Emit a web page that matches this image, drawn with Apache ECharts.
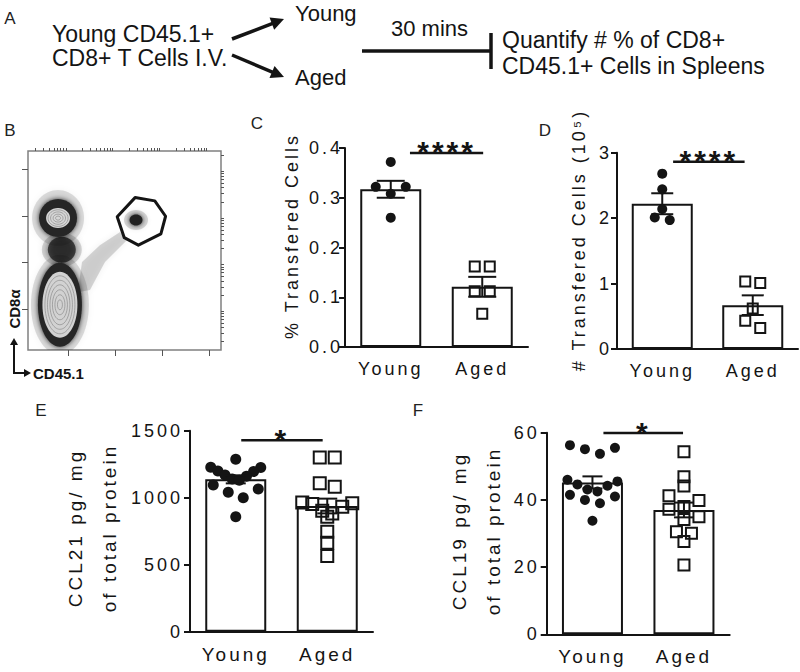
<!DOCTYPE html>
<html>
<head>
<meta charset="utf-8">
<script src="https://cdn.jsdelivr.net/npm/echarts@6/dist/echarts.min.js"></script>
<style>
html,body{margin:0;padding:0;background:#fff;}
#main{width:800px;height:672px;}
#main svg text[style*="Arial"]{letter-spacing:3px;}
</style>
</head>
<body>
<div id="main"></div>
<script>
// ---------------- data ----------------
const groups = ['Young', 'Aged'];

// C: % transferred cells
const cYoung = [0.372, 0.322, 0.322, 0.308, 0.260];
const cAged  = [0.162, 0.162, 0.112, 0.112, 0.067];
const cMean  = [0.317, 0.121];
const cSem   = [0.017, 0.020];
const cTickLabels = ['0.0', '0.1', '0.2', '0.3', '0.4'];

// D: # transferred cells (10^5)
const dYoung = [2.68, 2.44, 2.14, 2.01, 1.97];
const dAged  = [1.03, 1.01, 0.62, 0.43, 0.32];
const dMean  = [2.22, 0.67];
const dSem   = [0.16, 0.15];
const dTickLabels = ['0', '1', '2', '3'];

// E: CCL21 pg/mg
const eYoung = [1287, 1228, 1225, 1200, 1195, 1170, 1160, 1140, 1130, 1095, 1065, 1040, 1000, 858];
const eAged  = [1300, 1300, 1107, 1082, 965, 958, 953, 933, 903, 883, 858, 746, 664, 565];
const eMean  = [1137, 938];
const eSem   = [30, 55];
const eTickLabels = ['0', '500', '1000', '1500'];

// F: CCL19 pg/mg
const fYoung = [56.3, 55.5, 55.1, 53.7, 46.0, 45.5, 44.6, 44.2, 43.1, 42.5, 41.5, 41.0, 40.0, 39.0, 33.8];
const fAged  = [54.3, 46.9, 44.1, 41.2, 39.8, 38.0, 37.2, 35.0, 34.2, 30.5, 30.1, 27.6, 20.6];
const fMean  = [45.2, 37.0];
const fSem   = [1.8, 2.2];
const fTickLabels = ['0', '20', '40', '60'];

// B: flow plot (log decades)
const bMajorTicks = [1, 2, 3, 4];
const bPopulations = [[0.87, 2.27], [0.79, 2.95], [0.83, 1.09], [2.45, 2.91]];
const bGate = [[2.43, 3.39], [2.85, 3.32], [3.08, 2.99], [2.98, 2.61], [2.50, 2.37], [2.20, 2.53], [2.05, 2.98]];
const bStream = [[1.21, 1.36], [1.30, 2.01], [1.68, 2.37], [2.11, 2.65], [2.26, 2.48], [1.79, 2.01], [1.47, 1.41]];

// ---------------- helpers ----------------
const INK = '#141414';
const AX = { color: INK, width: 2 };

function logMinor(min, max) {
  const out = [];
  for (let d = 0; d <= 4; d++) for (let m = 2; m <= 9; m++) {
    const v = d + Math.log10(m);
    if (v > min && v < max) out.push(v);
  }
  return out;
}

// GraphPad-like row layout of points: rows of near-equal values, spread symmetrically
function swarmOffsets(values, pxPerUnit, gapPx, spanPx, stepPx, maxSpanPx) {
  const idx = values.map((v, i) => i).sort((a, b) => values[b] - values[a]);
  const offs = new Array(values.length).fill(0);
  const rows = [];
  let cur = [];
  idx.forEach(i => {
    if (cur.length) {
      const head = values[cur[0]], prev = values[cur[cur.length - 1]];
      if ((prev - values[i]) * pxPerUnit > gapPx || (head - values[i]) * pxPerUnit > spanPx) {
        rows.push(cur); cur = [];
      }
    }
    cur.push(i);
  });
  if (cur.length) rows.push(cur);
  rows.forEach(r => {
    const n = r.length;
    const d = n > 1 ? Math.min(stepPx, maxSpanPx / (n - 1)) : 0;
    const slots = [];
    for (let k = 0; k < n; k++) slots.push((k - (n - 1) / 2) * d);
    let L = 0, R = n - 1;
    r.forEach((i, j) => { offs[i] = (j % 2 === 0) ? slots[L++] : slots[R--]; });
  });
  return offs;
}

const panels = [
  { left: 345, top: 148, width: 183, height: 199, max: 0.4, interval: 0.1, ticks: cTickLabels,
    young: cYoung, aged: cAged, mean: cMean, sem: cSem, sig: '****', sigFrom: 0.21, sigTo: 1.01, sigY: 0.39,
    dot: 10, sq: 10, cap: 28, catSize: 18, labMargin: 2 },
  { left: 617, top: 152.7, width: 181, height: 196.3, max: 3, interval: 1, ticks: dTickLabels,
    young: dYoung, aged: dAged, mean: dMean, sem: dSem, sig: '****', sigFrom: 0.12, sigTo: 0.91, sigY: 2.86,
    dot: 10, sq: 10, cap: 22, catSize: 18, labMargin: 5 },
  { left: 190, top: 430.7, width: 183, height: 201, max: 1500, interval: 500, ticks: eTickLabels,
    young: eYoung, aged: eAged, mean: eMean, sem: eSem, sig: '*', sigFrom: 0.06, sigTo: 0.95, sigY: 1428,
    dot: 11, sq: 12, cap: 20, catSize: 19, labMargin: 7 },
  { left: 546.7, top: 432.7, width: 183, height: 201.6, max: 60, interval: 20, ticks: fTickLabels,
    young: fYoung, aged: fAged, mean: fMean, sem: fSem, sig: '*', sigFrom: 0.12, sigTo: 0.99, sigY: 59.9,
    dot: 10, sq: 11, cap: 20, catSize: 19, labMargin: 7 }
];

const grids = [], xAxes = [], yAxes = [], series = [];

panels.forEach((p, i) => {
  grids.push({ left: p.left, top: p.top, width: p.width, height: p.height });
  xAxes.push({
    type: 'category', gridIndex: i, data: groups,
    axisLine: { lineStyle: AX },
    axisTick: { alignWithLabel: true, length: 6, lineStyle: AX },
    axisLabel: { color: INK, fontSize: p.catSize, fontFamily: 'Arial', margin: 13 }
  });
  yAxes.push({
    type: 'value', gridIndex: i, min: 0, max: p.max, interval: p.interval,
    axisLine: { show: true, lineStyle: AX },
    axisTick: { show: true, length: 6, lineStyle: AX },
    splitLine: { show: false },
    axisLabel: { color: INK, fontSize: 18, fontFamily: 'Arial', margin: p.labMargin,
      formatter: v => p.ticks[Math.round(v / p.interval)] }
  });
  series.push({
    type: 'bar', xAxisIndex: i, yAxisIndex: i, data: p.mean, barWidth: 61, z: 2,
    itemStyle: { color: '#fff', borderColor: INK, borderWidth: 2 }
  });
  const ppu = p.height / p.max;
  [[0, p.young, 'circle', p.dot], [1, p.aged, 'square', p.sq]].forEach(([cat, vals, shape, size]) => {
    const offs = swarmOffsets(vals, ppu, 7.5, 13.4, 15, 50);
    series.push({
      type: 'custom', xAxisIndex: i, yAxisIndex: i, z: 3,
      data: vals.map((v, k) => [cat, v, offs[k]]),
      renderItem: (params, api) => {
        const pt = api.coord([api.value(0), api.value(1)]);
        const x = pt[0] + api.value(2), y = pt[1];
        if (shape === 'circle') {
          return { type: 'circle', shape: { cx: x, cy: y, r: size / 2 }, style: { fill: INK } };
        }
        return { type: 'rect', shape: { x: x - size / 2, y: y - size / 2, width: size, height: size },
          style: { fill: 'none', stroke: INK, lineWidth: 2 } };
      }
    });
  });
  // error bars (mean ± SEM)
  series.push({
    type: 'custom', xAxisIndex: i, yAxisIndex: i, z: 4,
    data: p.mean.map((m, k) => [k, m, p.sem[k]]),
    renderItem: (params, api) => {
      const c = api.value(0), m = api.value(1), s = api.value(2);
      const hi = api.coord([c, m + s]), lo = api.coord([c, m - s]);
      const hw = p.cap / 2, st = { stroke: INK, lineWidth: 2 };
      return { type: 'group', children: [
        { type: 'line', shape: { x1: hi[0], y1: hi[1], x2: lo[0], y2: lo[1] }, style: st },
        { type: 'line', shape: { x1: hi[0] - hw, y1: hi[1], x2: hi[0] + hw, y2: hi[1] }, style: st },
        { type: 'line', shape: { x1: lo[0] - hw, y1: lo[1], x2: lo[0] + hw, y2: lo[1] }, style: st }
      ] };
    }
  });
  // significance bar
  series.push({
    type: 'custom', xAxisIndex: i, yAxisIndex: i, z: 4, clip: false,
    data: [[0, p.sigY]],
    renderItem: (params, api) => {
      const a = api.coord([0, api.value(1)]), b = api.coord([1, api.value(1)]);
      const band = b[0] - a[0];
      const x1 = a[0] + p.sigFrom * band, x2 = a[0] + p.sigTo * band, y = a[1];
      return { type: 'group', children: [
        { type: 'line', shape: { x1: x1, y1: y, x2: x2, y2: y }, style: { stroke: INK, lineWidth: 2.5 } },
        { type: 'text', x: (x1 + x2) / 2, y: y - 1,
          style: { text: p.sig, fontSize: 30, fontWeight: 'bold', fontFamily: 'Arial', fill: INK,
            align: 'center', verticalAlign: 'middle' } }
      ] };
    }
  });
});

// ---- panel B (flow cytometry) grid ----
const BX = [0.15, 4.26], BY = [0.12, 4.39];
grids.push({ left: 28, top: 151, width: 193, height: 199, show: true, borderColor: '#808080', borderWidth: 1.5 });
const bTickCommon = (vals, len) => ({ show: true, customValues: vals, length: len, lineStyle: { color: '#555', width: 1 } });
xAxes.push({ type: 'value', gridIndex: 4, min: BX[0], max: BX[1], axisLine: { show: false }, splitLine: { show: false },
  axisLabel: { show: false }, axisTick: bTickCommon(bMajorTicks, 6) });
xAxes.push({ type: 'value', gridIndex: 4, min: BX[0], max: BX[1], axisLine: { show: false }, splitLine: { show: false },
  axisLabel: { show: false }, axisTick: bTickCommon(logMinor(BX[0], BX[1]), 3) });
yAxes.push({ type: 'value', gridIndex: 4, min: BY[0], max: BY[1], axisLine: { show: false }, splitLine: { show: false },
  axisLabel: { show: false }, axisTick: bTickCommon(bMajorTicks, 6) });
yAxes.push({ type: 'value', gridIndex: 4, min: BY[0], max: BY[1], axisLine: { show: false }, splitLine: { show: false },
  axisLabel: { show: false }, axisTick: bTickCommon(logMinor(BY[0], BY[1]), 3) });

function ell(cx, cy, rx, ry, style) { return { type: 'ellipse', shape: { cx, cy, rx, ry }, style }; }
const CONTOUR = { fill: 'none', stroke: '#8c8c8c', lineWidth: 0.7 };
const popLayers = [
  // connector between populations
  [[20, 17, { fill: 'rgba(0,0,0,0.15)', shadowBlur: 6, shadowColor: 'rgba(0,0,0,0.4)' }],
   [14, 13, { fill: 'rgba(20,20,20,0.7)', shadowBlur: 6, shadowColor: 'rgba(0,0,0,0.7)' }]],
  // CD8+ CD45.1- population
  [[26, 28, { fill: 'rgba(0,0,0,0.13)', shadowBlur: 6, shadowColor: 'rgba(0,0,0,0.35)' }],
   [19, 19, { fill: '#262626', shadowBlur: 5, shadowColor: 'rgba(0,0,0,0.8)' }],
   [12, 10, { fill: '#d6d6d6' }],
   [10, 8.3, CONTOUR], [7.5, 6.2, CONTOUR], [5, 4, CONTOUR], [2.5, 2, CONTOUR]],
  // CD8- population
  [[29, 50, { fill: 'rgba(0,0,0,0.13)', shadowBlur: 6, shadowColor: 'rgba(0,0,0,0.35)' }],
   [22, 42, { fill: '#262626', shadowBlur: 5, shadowColor: 'rgba(0,0,0,0.8)' }],
   [17.5, 33, { fill: '#d2d2d2' }],
   [15, 29, CONTOUR], [12.5, 24.5, CONTOUR], [10, 20, CONTOUR], [7.5, 15, CONTOUR], [5, 10, CONTOUR], [2.5, 5, CONTOUR]],
  // transferred cells inside gate
  [[12, 10, { fill: 'rgba(0,0,0,0.15)', shadowBlur: 4, shadowColor: 'rgba(0,0,0,0.4)' }],
   [6.5, 5.5, { fill: '#222', shadowBlur: 4, shadowColor: 'rgba(0,0,0,0.8)' }]]
];

series.push({
  type: 'custom', xAxisIndex: 4, yAxisIndex: 4, z: 2, clip: true,
  data: [0],
  renderItem: (params, api) => ({
    type: 'polygon', shape: { points: bStream.map(v => api.coord(v)) },
    style: { fill: 'rgba(0,0,0,0.15)', shadowBlur: 6, shadowColor: 'rgba(0,0,0,0.4)' }
  })
});
series.push({
  type: 'custom', xAxisIndex: 4, yAxisIndex: 4, z: 3, clip: true,
  data: bPopulations,
  renderItem: (params, api) => {
    const c = api.coord([api.value(0), api.value(1)]);
    return { type: 'group', children: popLayers[params.dataIndex].map(l => ell(c[0], c[1], l[0], l[1], l[2])) };
  }
});
series.push({
  type: 'custom', xAxisIndex: 4, yAxisIndex: 4, z: 4, clip: true,
  data: [0],
  renderItem: (params, api) => ({
    type: 'polygon', shape: { points: bGate.map(v => api.coord(v)) },
    style: { fill: 'none', stroke: INK, lineWidth: 3, lineJoin: 'round' }
  })
});

// ---------------- graphics: text & arrows ----------------
const AF = 'Liberation Sans';
function txt(text, x, y, size, opts) {
  opts = opts || {};
  return { type: 'text', x: x, y: y, rotation: opts.rot || 0, z: 10,
    style: Object.assign({ text: text, fontSize: size, fontFamily: opts.family || AF, fill: opts.fill || INK,
      align: opts.align || 'left', verticalAlign: 'middle', fontWeight: opts.weight || 'normal' }, opts.extra || {}) };
}
function arrow(x1, y1, x2, y2, w, hl, hw) {
  const dx = x2 - x1, dy = y2 - y1, L = Math.hypot(dx, dy), ux = dx / L, uy = dy / L;
  const bx = x2 - ux * hl, by = y2 - uy * hl;
  return [
    { type: 'line', z: 10, shape: { x1: x1, y1: y1, x2: bx + ux * 1, y2: by + uy * 1 }, style: { stroke: INK, lineWidth: w } },
    { type: 'polygon', z: 10, shape: { points: [[x2, y2], [bx - uy * hw, by + ux * hw], [bx + uy * hw, by - ux * hw]] }, style: { fill: INK } }
  ];
}
const graphics = [
  txt('A', 10, 18, 17, { align: 'center', fill: '#222' }),
  txt('Young CD45.1+', 52, 34, 23, { extra: { } }),
  txt('CD8+ T Cells I.V.', 52, 58, 23),
  txt('Young', 295, 13, 22),
  txt('Aged', 295, 77, 22),
  txt('30 mins', 391, 28, 22),
  txt('Quantify # % of CD8+', 502, 40, 23),
  txt('CD45.1+ Cells in Spleens', 502, 66, 23),
  ...arrow(232, 39, 284, 19, 3.5, 13, 6.5),
  ...arrow(232, 55, 284, 77, 3.5, 13, 6.5),
  { type: 'line', z: 10, shape: { x1: 362, y1: 51, x2: 491, y2: 51 }, style: { stroke: INK, lineWidth: 3.5 } },
  { type: 'line', z: 10, shape: { x1: 491, y1: 33, x2: 491, y2: 69 }, style: { stroke: INK, lineWidth: 3.5 } },
  // panel letters
  txt('B', 10, 130, 17, { align: 'center', fill: '#222' }),
  txt('C', 257, 123, 17, { align: 'center', fill: '#222' }),
  txt('D', 545, 130, 17, { align: 'center', fill: '#222' }),
  txt('E', 41, 410, 17, { align: 'center', fill: '#222' }),
  txt('F', 418, 410, 17, { align: 'center', fill: '#222' }),
  // B axis labels
  txt('CD8α', 14, 309, 15, { align: 'center', weight: 'bold', rot: Math.PI / 2 }),
  txt('CD45.1', 33, 373, 15, { weight: 'bold' }),
  ...arrow(14, 374, 14, 338, 2, 7, 4),
  ...arrow(13, 373, 31, 373, 2, 7, 4),
  // y-axis titles
  txt('% Transfered Cells', 292, 236, 18, { align: 'center', rot: Math.PI / 2, family: 'Arial' }),
  txt('# Transfered Cells (10⁵)', 579, 240, 18, { align: 'center', rot: Math.PI / 2, family: 'Arial' }),
  txt('CCL21 pg/ mg\nof total protein', 92, 528, 19, { align: 'center', rot: Math.PI / 2, family: 'Arial',
    extra: { lineHeight: 34 } }),
  txt('CCL19 pg/ mg\nof total protein', 476, 531, 19, { align: 'center', rot: Math.PI / 2, family: 'Arial',
    extra: { lineHeight: 34 } })
];

const chart = echarts.init(document.getElementById('main'), null, { renderer: 'svg' });
chart.setOption({
  animation: false,
  backgroundColor: '#fff',
  textStyle: { fontFamily: 'Arial' },
  grid: grids,
  xAxis: xAxes,
  yAxis: yAxes,
  series: series,
  graphic: graphics
});
</script>
</body>
</html>
